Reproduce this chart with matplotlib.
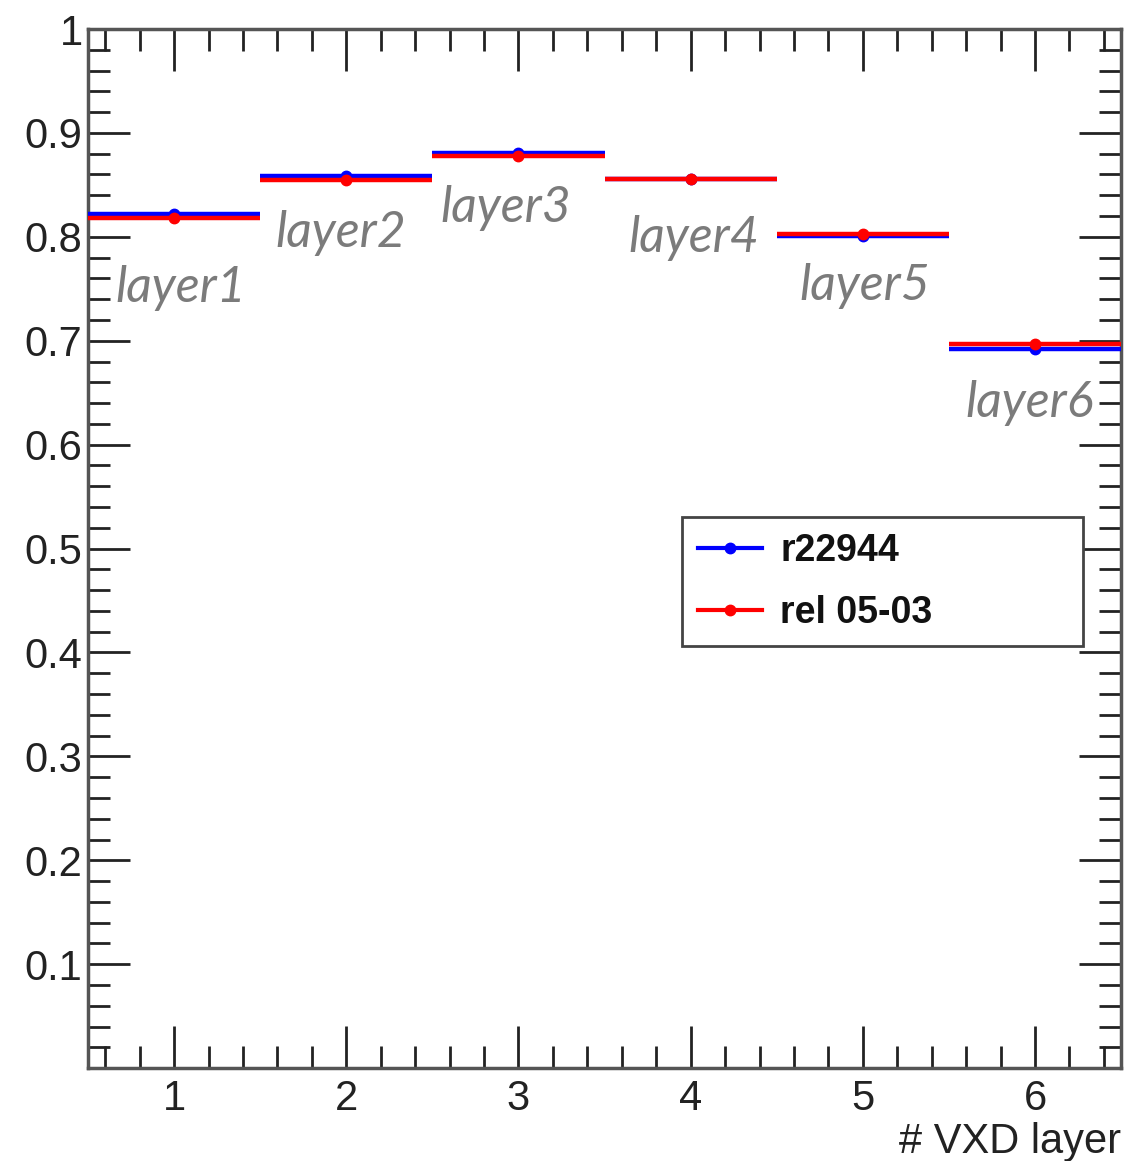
import numpy as np
import matplotlib
matplotlib.use("Agg")
import matplotlib.pyplot as plt
from matplotlib.lines import Line2D

# VXD layer efficiency, two software versions
layers = [1, 2, 3, 4, 5, 6]
eff_r22944 = [0.822, 0.859, 0.881, 0.856, 0.801, 0.692]
eff_rel0503 = [0.818, 0.855, 0.878, 0.856, 0.803, 0.697]
layer_names = ["layer1", "layer2", "layer3", "layer4", "layer5", "layer6"]
# label anchor (left edge, baseline) in data units
label_x = [0.657, 1.586, 2.544, 3.636, 4.629, 5.593]
label_y = [0.737, 0.790, 0.814, 0.785, 0.739, 0.627]

plt.rcParams["font.family"] = ["Liberation Sans", "DejaVu Sans"]

fig = plt.figure(figsize=(11.29, 11.61), dpi=100)
ax = fig.add_axes([0.078, 0.080, 0.915, 0.895])

# bin-style markers: horizontal bar over the whole bin with a dot at the centre
ax.errorbar(layers, eff_r22944, xerr=0.5, fmt="o", color="#0000ff",
            ms=7.5, lw=3.2, capsize=0, zorder=3)
ax.errorbar(layers, eff_rel0503, xerr=0.5, fmt="o", color="#ff0000",
            ms=7.5, lw=3.2, capsize=0, zorder=4)

for name, lx, ly in zip(layer_names, label_x, label_y):
    ax.text(lx, ly, name, fontsize=36, style="italic", color="#7b7b7b",
            family=["Lato", "DejaVu Sans"],
            ha="left", va="baseline", zorder=5)

ax.set_xlim(0.5, 6.5)
ax.set_ylim(0, 1)
ax.set_xticks(layers)
ax.set_xticks(np.arange(0.6, 6.5, 0.2), minor=True)
ax.set_yticks(np.arange(0.1, 1.01, 0.1))
ax.set_yticklabels(["0.1", "0.2", "0.3", "0.4", "0.5", "0.6", "0.7", "0.8", "0.9", "1"])
ax.set_yticks(np.arange(0.02, 1.0, 0.02), minor=True)

ax.tick_params(which="both", direction="in", top=True, right=True,
               color="#222222", width=2, labelsize=30, labelcolor="#222222")
ax.tick_params(which="major", length=30, pad=8)
ax.tick_params(which="minor", length=16)
ax.tick_params(axis="y", which="major", pad=4)
for s in ax.spines.values():
    s.set_color("#555555")
    s.set_linewidth(2.5)

ax.set_xlabel("# VXD layer", fontsize=30, color="#222222", ha="right")
ax.xaxis.set_label_coords(1.0, -0.052)

handles = [
    Line2D([], [], color="#0000ff", marker="o", ms=7.5, lw=3),
    Line2D([], [], color="#ff0000", marker="o", ms=7.5, lw=3),
]
leg = ax.legend(handles, ["r22944", "rel 05-03"], loc="upper left",
                bbox_to_anchor=(0.575, 0.405, 0.388, 0.125), mode="expand",
                prop={"size": 27, "weight": "bold"}, fancybox=False,
                framealpha=1, edgecolor="#444444", handlelength=1.7,
                handletextpad=0.5, labelspacing=0.68, borderpad=0.42,
                borderaxespad=0)
leg.get_frame().set_linewidth(2)
for t in leg.get_texts():
    t.set_color("#111111")

fig.savefig("out.png", dpi=100)
